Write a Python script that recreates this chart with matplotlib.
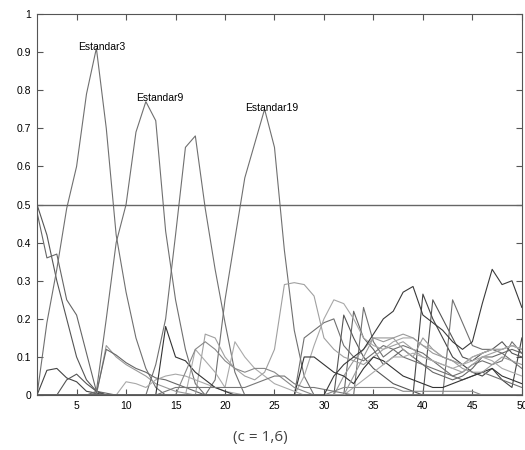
import numpy as np
import matplotlib
matplotlib.use("Agg")
import matplotlib.pyplot as plt

# x positions 1..50
x = np.arange(1, 51)

z10 = [0] * 10

est01 = [0.50, 0.42, 0.30, 0.20, 0.10, 0.04, 0.01, 0, 0, 0] + z10 + z10 + \
        [0, 0.21, 0.15, 0.10, 0.07, 0.05, 0.03, 0.02, 0.01, 0] + z10
est02 = [0.48, 0.36, 0.37, 0.25, 0.21, 0.11, 0.01, 0.005, 0, 0] + z10 + z10 + \
        [0, 0, 0.22, 0.15, 0.12, 0.08, 0.10, 0.12, 0.10, 0.08] + \
        [0.06, 0.05, 0.04, 0.05, 0.07, 0.10, 0.10, 0.11, 0.12, 0.11]
est03 = [0, 0.19, 0.33, 0.49, 0.60, 0.79, 0.91, 0.70, 0.42, 0.27] + \
        [0.15, 0.07, 0.02, 0, 0, 0, 0, 0, 0, 0] + z10 + \
        [0, 0, 0, 0.23, 0.14, 0.10, 0.12, 0.13, 0.12, 0.11] + \
        [0.09, 0.07, 0.05, 0.06, 0.08, 0.09, 0.08, 0.09, 0.14, 0.11]
est04 = [0, 0.065, 0.07, 0.045, 0.035, 0.01, 0.005, 0, 0, 0] + z10 + z10 + \
        [0, 0, 0, 0, 0, 0, 0, 0, 0, 0.265] + \
        [0.20, 0.15, 0.10, 0.08, 0.06, 0.05, 0.07, 0.04, 0.02, 0.15]
est05 = [0, 0, 0, 0.04, 0.055, 0.03, 0.01, 0, 0, 0] + z10 + z10 + z10 + \
        [0.25, 0.20, 0.15, 0.10, 0.09, 0.11, 0.12, 0.14, 0.11, 0.10]
est06 = [0, 0, 0, 0, 0, 0, 0.01, 0.20, 0.40, 0.50] + \
        [0.69, 0.77, 0.72, 0.43, 0.25, 0.12, 0.03, 0, 0, 0] + z10 + z10 + \
        [0, 0, 0.25, 0.19, 0.13, 0.12, 0.12, 0.11, 0.09, 0.07]
est07 = [0, 0, 0, 0, 0, 0, 0, 0.13, 0.10, 0.08] + \
        [0.065, 0.05, 0.03, 0.02, 0.01, 0.005, 0, 0, 0, 0] + z10 + \
        [0, 0.05, 0.09, 0.12, 0.15, 0.15, 0.15, 0.12, 0.10, 0.15] + \
        [0.12, 0.10, 0.09, 0.08, 0.10, 0.11, 0.12, 0.12, 0.13, 0.12]
est08 = [0, 0, 0, 0, 0, 0, 0.005, 0.12, 0.105, 0.085] + \
        [0.07, 0.06, 0.045, 0.04, 0.03, 0.02, 0.01, 0, 0, 0] + z10 + z10 + z10
est09 = z10 + [0, 0, 0.08, 0.20, 0.42, 0.65, 0.68, 0.49, 0.33, 0.19] + \
        [0.06, 0, 0, 0, 0, 0, 0, 0.15, 0.17, 0.19] + \
        [0.20, 0.13, 0.10, 0.09, 0.11, 0.13, 0.12, 0.10, 0.09, 0.08] + \
        [0.07, 0.06, 0.05, 0.04, 0.05, 0.06, 0.05, 0.04, 0.03, 0.02]
est10 = z10 + [0, 0, 0, 0, 0, 0, 0, 0, 0.04, 0.25] + \
        [0.41, 0.57, 0.66, 0.75, 0.65, 0.38, 0.17, 0.05, 0, 0] + z10 + z10
est11 = z10 + [0, 0, 0, 0, 0, 0, 0, 0.16, 0.15, 0.10] + \
        [0.07, 0.05, 0.04, 0.06, 0.12, 0.29, 0.295, 0.29, 0.26, 0.15] + \
        [0.12, 0.10, 0.09, 0.08, 0.10, 0.12, 0.13, 0.14, 0.12, 0.10] + \
        [0.09, 0.08, 0.07, 0.06, 0.08, 0.10, 0.11, 0.12, 0.13, 0.12]
est12 = [0, 0, 0, 0, 0, 0, 0, 0, 0, 0.035] + \
        [0.03, 0.02, 0.04, 0.05, 0.055, 0.05, 0.04, 0.03, 0.02, 0.01] + \
        [0.005, 0, 0, 0, 0, 0, 0, 0.05, 0.13, 0.20] + \
        [0.25, 0.24, 0.20, 0.15, 0.13, 0.12, 0.14, 0.15, 0.15, 0.13] + \
        [0.12, 0.10, 0.09, 0.08, 0.10, 0.11, 0.12, 0.12, 0.13, 0.12]
est13 = z10 + [0, 0, 0, 0.18, 0.10, 0.09, 0.06, 0.04, 0.02, 0.01] + \
        [0, 0, 0, 0, 0, 0, 0, 0.10, 0.10, 0.08] + \
        [0.06, 0.05, 0.03, 0.07, 0.10, 0.09, 0.07, 0.05, 0.04, 0.03] + \
        [0.02, 0.02, 0.03, 0.04, 0.05, 0.06, 0.07, 0.05, 0.04, 0.03]
est14 = z10 + [0, 0, 0, 0, 0, 0, 0.12, 0.09, 0.06, 0.02] + \
        [0.14, 0.10, 0.07, 0.05, 0.03, 0.02, 0.01, 0, 0, 0] + \
        [0, 0, 0.02, 0.04, 0.06, 0.08, 0.10, 0.10, 0.11, 0.10] + \
        [0.09, 0.08, 0.07, 0.08, 0.09, 0.10, 0.09, 0.07, 0.06, 0.05]
est15 = z10 + [0, 0, 0, 0, 0, 0.06, 0.12, 0.14, 0.12, 0.09] + \
        [0.07, 0.06, 0.07, 0.07, 0.06, 0.04, 0.02, 0.01, 0, 0] + \
        [0.01, 0.02, 0.02, 0.02, 0.02, 0.02, 0.02, 0.01, 0.01, 0.01] + \
        [0.01, 0.01, 0.01, 0.01, 0.01, 0, 0, 0, 0, 0]
est16 = z10 + [0, 0, 0, 0.01, 0.02, 0.02, 0.02, 0.02, 0.02, 0.02] + \
        [0.02, 0.02, 0.03, 0.04, 0.05, 0.05, 0.03, 0.02, 0.02, 0.015] + \
        [0.01, 0.005, 0, 0, 0, 0, 0, 0, 0, 0] + z10
est17 = z10 + z10 + z10 + \
        [0, 0, 0.05, 0.10, 0.15, 0.14, 0.15, 0.16, 0.15, 0.13] + \
        [0.11, 0.10, 0.09, 0.07, 0.06, 0.06, 0.08, 0.10, 0.09, 0.08]
est18 = z10 + z10 + z10 + \
        [0.05, 0.08, 0.10, 0.12, 0.16, 0.20, 0.22, 0.27, 0.285, 0.21] + \
        [0.19, 0.17, 0.14, 0.12, 0.14, 0.24, 0.33, 0.29, 0.30, 0.23]

all_series = [est01, est02, est03, est04, est05, est06, est07, est08, est09,
              est10, est11, est12, est13, est14, est15, est16, est17, est18]
line_colors = ["#555555", "#666666", "#707070", "#444444", "#555555",
               "#707070", "#999999", "#666666", "#707070", "#707070",
               "#a0a0a0", "#a8a8a8", "#333333", "#aaaaaa", "#888888",
               "#777777", "#9a9a9a", "#3a3a3a"]

labels = ["Estandar3", "Estandar9", "Estandar19"]
label_x = [5.15, 11.0, 22.05]
label_y = [0.914, 0.779, 0.754]

threshold = 0.5

plt.rcParams["font.family"] = ["Liberation Sans", "DejaVu Sans"]

fig = plt.figure(figsize=(5.25, 4.5), dpi=100)
ax = fig.add_axes([0.0705, 0.122, 0.9235, 0.847])

for s, c in zip(all_series, line_colors):
    ax.plot(x, s, color=c, lw=0.8)

ax.axhline(threshold, color="#666666", lw=1.0)

for t, tx, ty in zip(labels, label_x, label_y):
    ax.text(tx, ty, t, ha="left", va="center", fontsize=7.5, color="black")

ax.set_xlim(1, 50)
ax.set_ylim(0, 1)
ax.set_xticks(np.arange(5, 51, 5))
ax.set_yticks(np.arange(0, 1.01, 0.1))
ax.set_yticklabels(["0"] + [f"{v:.1f}" for v in np.arange(0.1, 0.95, 0.1)] + ["1"])
ax.tick_params(direction="in", length=4, width=0.8, color="#555555",
               labelsize=7.5, top=True, right=True, pad=4)
for sp in ax.spines.values():
    sp.set_color("#555555")
    sp.set_linewidth(0.8)

fig.text(260 / 525, 1 - 438 / 450, "(c = 1,6)", ha="center", va="center",
         fontsize=11, color="#444444", family=["Open Sans", "DejaVu Sans"])

fig.savefig("out.png", dpi=100)
